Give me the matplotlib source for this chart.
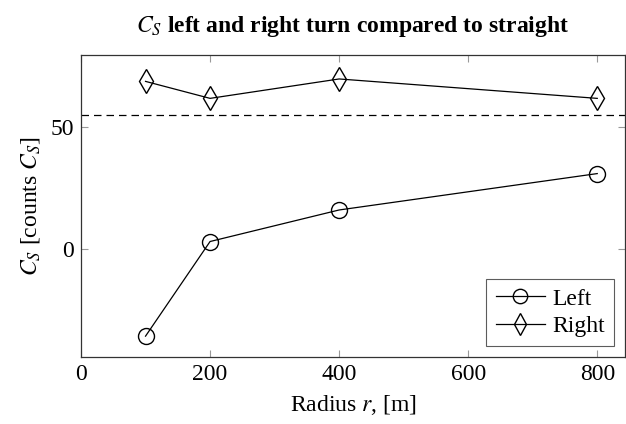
import matplotlib
matplotlib.use('Agg')
import matplotlib.pyplot as plt

# data
radius = [100, 200, 400, 800]
left = [-36, 3, 16, 31]
right = [69, 62, 70, 62]
straight = 55

plt.rcParams['font.family'] = ['Liberation Serif', 'DejaVu Serif']
plt.rcParams['mathtext.fontset'] = 'stix'

fig = plt.figure(figsize=(6.26, 4.24), dpi=100)
ax = fig.add_axes([0.1294, 0.158, 0.869, 0.713])

ax.plot(radius, left, color='black', lw=0.9, marker='o', markersize=11.5,
        markerfacecolor='none', markeredgewidth=1.0, label='Left')
ax.plot(radius, right, color='black', lw=0.9, marker='d', markersize=12,
        markerfacecolor='none', markeredgewidth=1.0, label='Right')
ax.axhline(straight, color='black', lw=0.9, ls=(0, (6, 4)))

ax.set_xlim(0, 843)
ax.set_ylim(-44.6, 80)
ax.set_xticks([0, 200, 400, 600, 800])
ax.set_yticks([0, 50])
ax.tick_params(direction='in', length=5, color='#999999', width=0.8,
               top=True, right=True, labelsize=17, pad=5)
for s in ax.spines.values():
    s.set_linewidth(0.9)
    s.set_color('#333333')

ax.set_xlabel('Radius $r$, [m]', fontsize=17, labelpad=6)
ax.set_ylabel('$C_S$ [counts $C_S$]', fontsize=17, labelpad=6)
ax.set_title('$C_S$ left and right turn compared to straight', fontsize=17,
             fontweight='bold', pad=16)

leg = ax.legend(loc='lower right', fontsize=17, frameon=True, fancybox=False,
                edgecolor='#333333', handlelength=2.1, handletextpad=0.3,
                borderpad=0.4, labelspacing=0.25, borderaxespad=0.45,
                markerscale=0.9)
leg.get_frame().set_linewidth(0.8)

fig.savefig('out.png', dpi=100)
